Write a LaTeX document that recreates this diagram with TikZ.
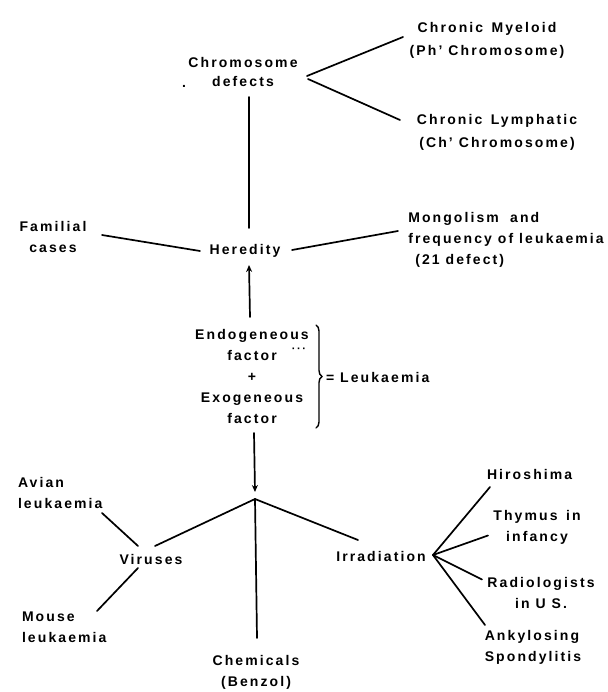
\documentclass[tikz,border=0pt]{standalone}
\usepackage{fontspec}
\setmainfont{Liberation Sans}[LetterSpace=15]
\usetikzlibrary{arrows.meta,decorations.pathreplacing}
\begin{document}
\begin{tikzpicture}[x=1pt,y=-1pt,
  every node/.style={inner sep=0pt, outer sep=0pt, font=\bfseries\fontsize{14}{21}\selectfont},
  lbl/.style={align=center},
  lbll/.style={align=left},
  conn/.style={line width=1.7pt, line cap=round},
  arr/.style={conn, -{Stealth[length=7pt,width=6pt]}}]
\useasboundingbox (0,0) rectangle (607,692);

% nodes
\node[lbl, font=\bfseries\fontsize{14}{19}\selectfont] (chrom) at (243,72) {Chromosome\\defects};
\node (dot) at (184,86) {.};
\node[lbl, font=\bfseries\fontsize{14}{23}\selectfont] (myel) at (487,40) {Chronic\hspace{0.6em}Myeloid\\(Ph’ Chromosome)};
\node[lbl, font=\bfseries\fontsize{14}{23}\selectfont] (lymph) at (497,132) {Chronic\hspace{0.6em}Lymphatic\\(Ch’ Chromosome)};
\node[lbl] (fam) at (53,237) {Familial\\cases};
\node (her) at (245,251) {Heredity};
\node[lbll] (mong) at (506,240) {Mongolism\hspace{0.8em}and\\frequency of leukaemia\\\hspace{0.5em}(21 defect)};
\node[lbl] (endo) at (252,376.5) {Endogeneous\\factor\\+\\Exogeneous\\factor};
\node (dots) at (299,350) {\fontsize{11}{11}\selectfont ···};
\node[anchor=west] (leuk) at (326,377) {= Leukaemia};
\coordinate (J) at (255,499);
\node[lbll, anchor=west] (avian) at (18,492.5) {Avian\\leukaemia};
\node (vir) at (151,559) {Viruses};
\node[lbll, anchor=west] (mouse) at (22,627) {Mouse\\leukaemia};
\node[lbl] (chem) at (256,672) {Chemicals\\(Benzol)};
\node (irr) at (381,556) {Irradiation};
\node[anchor=west] (hiro) at (487,474) {Hiroshima};
\node[lbl] (thy) at (537,527.5) {Thymus\hspace{0.6em}in\\infancy};
\node[lbl] (rad) at (541,592.5) {Radiologists\\in U S.};
\node[lbll] (ank) at (533,647.5) {Ankylosing\\Spondylitis};

% connectors
\draw[conn] ([shift={(64,4)}]chrom.center) -- ([shift={(-84,-3)}]myel.center);
\draw[conn] ([shift={(65,7)}]chrom.center) -- ([shift={(-97,-12)}]lymph.center);
\draw[conn] ([shift={(6,25)}]chrom.center) -- ([shift={(4,-23)}]her.center);
\draw[conn] ([shift={(49,-2)}]fam.center) -- ([shift={(-45,0)}]her.center);
\draw[conn] ([shift={(47,-1)}]her.center) -- ([shift={(-108,-9)}]mong.center);
\draw[arr] ([shift={(-2,-59.5)}]endo.center) -- ([shift={(4,14)}]her.center);
\draw[conn, line width=1.4pt, decorate, decoration={brace, amplitude=6pt}]
  ([shift={(64,-51.5)}]endo.center) -- ([shift={(64,51.5)}]endo.center);
\draw[arr] ([shift={(2,56.5)}]endo.center) -- ([shift={(0,-7)}]J);
\draw[conn] (J) -- ([shift={(4,-13)}]vir.center);
\draw[conn] (J) -- ([shift={(-23,-16)}]irr.center);
\draw[conn] (J) -- ([shift={(1,-34)}]chem.center);
\draw[conn] ([shift={(84,20.5)}]avian.west) -- ([shift={(-13,-13)}]vir.center);
\draw[conn] ([shift={(75,-16)}]mouse.west) -- ([shift={(-13,9)}]vir.center);
\coordinate (I) at ([shift={(52,-1)}]irr.center);
\draw[conn] (I) -- ([shift={(3,13)}]hiro.west);
\draw[conn] (I) -- ([shift={(-49,8)}]thy.center);
\draw[conn] (I) -- ([shift={(-59,-13)}]rad.center);
\draw[conn] (I) -- ([shift={(-48,-22.5)}]ank.center);
\end{tikzpicture}
\end{document}
